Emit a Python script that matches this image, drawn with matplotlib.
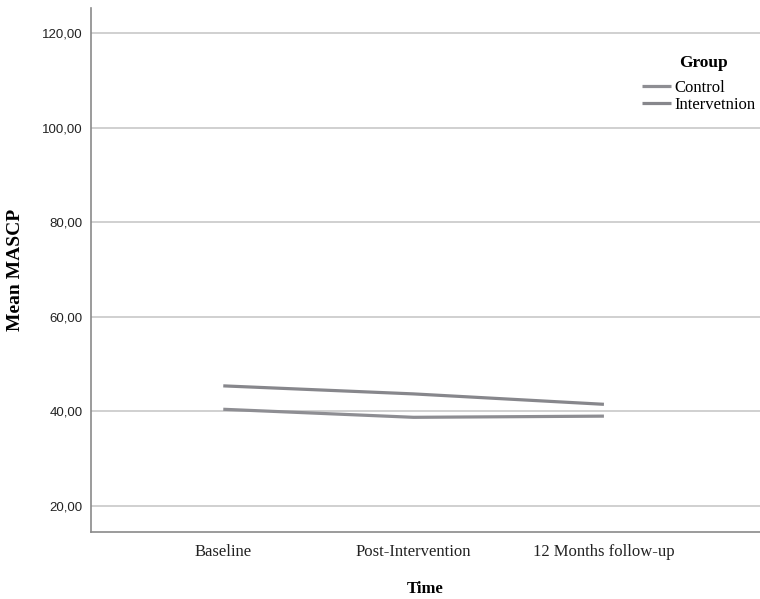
import matplotlib
matplotlib.use('Agg')
import matplotlib.pyplot as plt
import numpy as np

# profile plot data (estimated means)
times = ['Baseline', 'Post-Intervention', '12 Months follow-up']
groups = ['Control', 'Intervetnion']
control = [40.45, 38.75, 39.0]
intervention = [45.4, 43.7, 41.5]
yticks = [20, 40, 60, 80, 100, 120]
ytick_labels = ['20,00', '40,00', '60,00', '80,00', '100,00', '120,00']

serif = 'Liberation Serif'
sans = 'Liberation Sans'

fig = plt.figure(figsize=(7.6, 5.99), dpi=100)
ax = fig.add_axes([91/760, 67/599, 1 - 91/760, (532 - 8)/599])

x = np.arange(len(times))
ax.plot(x, control, color='#8e8e93', lw=2.3, solid_capstyle='butt', label=groups[0], zorder=3)
ax.plot(x, intervention, color='#87878c', lw=2.3, solid_capstyle='butt', label=groups[1], zorder=3)

ax.set_xlim(-0.695, 2.82)
ax.set_ylim(14.5, 125.3)
ax.set_yticks(yticks)
ax.set_yticklabels(ytick_labels, fontfamily=sans, fontsize=9.5, color='#222222')
ax.set_xticks(x)
ax.set_xticklabels(times, fontfamily=serif, fontsize=12, color='#222222')
ax.tick_params(axis='both', length=0, pad=6)
ax.tick_params(axis='x', pad=9)

ax.grid(axis='y', color='#c8c8c8', lw=1.2, zorder=0)
ax.set_axisbelow(True)
for s in ['top', 'right']:
    ax.spines[s].set_visible(False)
for s in ['left', 'bottom']:
    ax.spines[s].set_color('#8a8a8a')
    ax.spines[s].set_linewidth(1.2)

ax.set_xlabel('Time', fontfamily=serif, fontsize=12, fontweight='bold', labelpad=15)
ax.set_ylabel('Mean MASCP', fontfamily=serif, fontsize=14, fontweight='bold')
ax.yaxis.set_label_coords(-0.1, 0.5)

leg = ax.legend(loc='upper left', bbox_to_anchor=(0.8236, 0.862), frameon=False,
                prop={'family': serif, 'size': 12},
                handlelength=1.75, handletextpad=0.2, labelspacing=0.02,
                borderaxespad=0, borderpad=0)
ax.text(0.879, 0.895, 'Group', transform=ax.transAxes, fontfamily=serif,
        fontsize=12.5, fontweight='bold', ha='left', va='center')

fig.savefig('out.png', dpi=100)
